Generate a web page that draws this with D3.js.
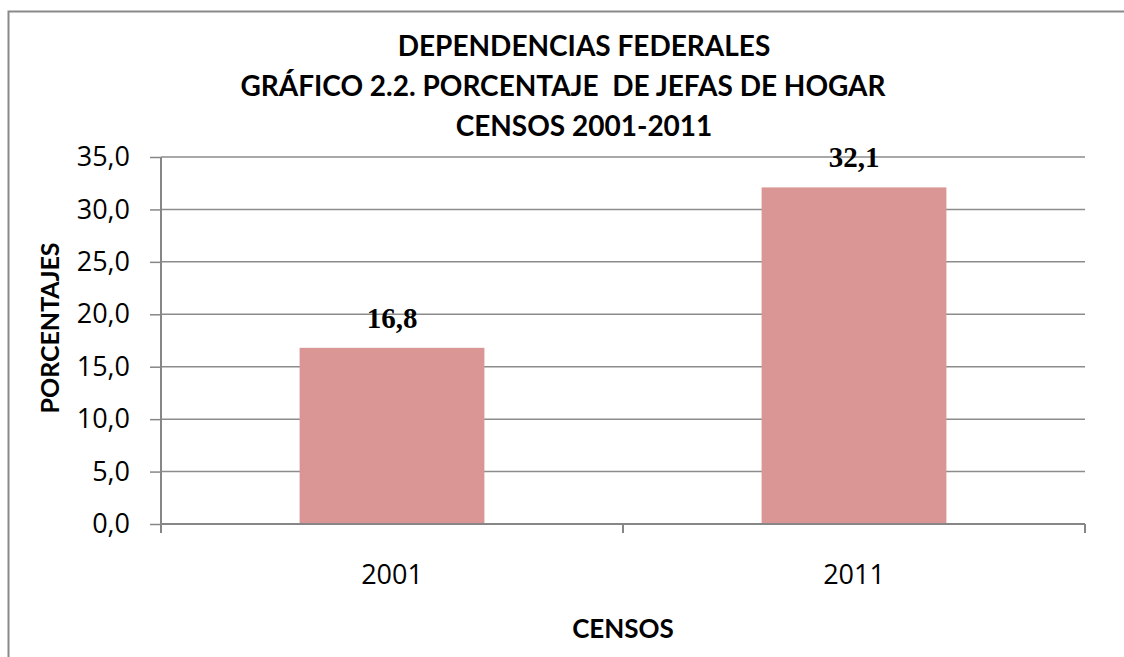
<!DOCTYPE html>
<html>
<head>
<meta charset="utf-8">
<script src="https://cdn.jsdelivr.net/npm/d3@7"></script>
<style>
  body { margin: 0; background: #fff; overflow: hidden; }
  svg { display: block; }
</style>
</head>
<body>
<div id="chart"></div>
<script>
const titleLines = ["DEPENDENCIAS FEDERALES", "GRÁFICO 2.2. PORCENTAJE  DE JEFAS DE HOGAR", "CENSOS 2001-2011"];
const categories = ["2001", "2011"];
const values = [16.8, 32.1];
const yTicks = [0, 5, 10, 15, 20, 25, 30, 35];
const yLabel = "PORCENTAJES";
const xLabel = "CENSOS";

const width = 1124, height = 657;
const plot = { left: 161, right: 1085, top: 157, bottom: 524 };
const fmt = d => d.toFixed(1).replace(".", ",");

const svg = d3.select("#chart").append("svg")
  .attr("width", width)
  .attr("height", height);

// Outer frame (runs past the picture edges)
svg.append("rect")
  .attr("x", 8.5).attr("y", 11.5)
  .attr("width", 1140).attr("height", 680)
  .attr("fill", "#fff")
  .attr("stroke", "#898989")
  .attr("stroke-width", 2);

// Scales
const x = d3.scaleBand()
  .domain(categories)
  .range([plot.left, plot.right])
  .paddingInner(0.6)
  .paddingOuter(0.3);

const y = d3.scaleLinear()
  .domain([0, 35])
  .range([plot.bottom, plot.top]);

// Gridlines
svg.append("g")
  .selectAll("line")
  .data(yTicks.filter(d => d > 0))
  .join("line")
  .attr("x1", plot.left).attr("x2", plot.right)
  .attr("y1", d => y(d)).attr("y2", d => y(d))
  .attr("stroke", "#8c8c8c")
  .attr("stroke-width", 1.5);

// Bars
svg.append("g")
  .selectAll("rect")
  .data(categories)
  .join("rect")
  .attr("x", d => x(d))
  .attr("y", (d, i) => y(values[i]))
  .attr("width", x.bandwidth())
  .attr("height", (d, i) => y(0) - y(values[i]))
  .attr("fill", "#d99694");

// Y axis
const yAxis = svg.append("g")
  .attr("transform", `translate(${plot.left},0)`)
  .call(d3.axisLeft(y)
    .tickValues(yTicks)
    .tickSize(11)
    .tickPadding(20)
    .tickFormat(fmt));

yAxis.select(".domain").remove();
yAxis.append("line")
  .attr("x1", 0).attr("x2", 0)
  .attr("y1", plot.top).attr("y2", plot.bottom + 9)
  .attr("stroke", "#868686")
  .attr("stroke-width", 2);
yAxis.selectAll(".tick line")
  .attr("stroke", "#868686")
  .attr("stroke-width", 1.5);
yAxis.selectAll(".tick text")
  .attr("fill", "#000")
  .style("font-family", "'Open Sans', sans-serif")
  .style("font-size", "27px");

// X axis
const xAxis = svg.append("g")
  .attr("transform", `translate(0,${plot.bottom})`)
  .call(d3.axisBottom(x).tickSize(0).tickPadding(41));

xAxis.select(".domain").remove();
xAxis.append("line")
  .attr("x1", plot.left).attr("x2", plot.right)
  .attr("y1", 0).attr("y2", 0)
  .attr("stroke", "#868686")
  .attr("stroke-width", 2);

// tick marks at the category boundaries
const step = x.step();
const bounds = categories.map((c, i) => plot.left + i * step);
bounds.push(plot.right);
xAxis.selectAll(".bound")
  .data(bounds)
  .join("line")
  .attr("class", "bound")
  .attr("x1", d => d).attr("x2", d => d)
  .attr("y1", 0).attr("y2", 9)
  .attr("stroke", "#868686")
  .attr("stroke-width", 2);

xAxis.selectAll(".tick text")
  .attr("fill", "#000")
  .style("font-family", "'Open Sans', sans-serif")
  .style("font-size", "27px");

// Value labels
svg.append("g")
  .selectAll("text")
  .data(categories)
  .join("text")
  .attr("x", d => x(d) + x.bandwidth() / 2)
  .attr("y", (d, i) => y(values[i]) - 20)
  .attr("text-anchor", "middle")
  .style("font-family", "'Liberation Serif', serif")
  .style("font-weight", "bold")
  .style("font-size", "29px")
  .text((d, i) => fmt(values[i]));

// Title
svg.append("text")
  .attr("text-anchor", "middle")
  .style("font-family", "Lato, sans-serif")
  .style("font-weight", "bold")
  .style("font-size", "28px")
  .style("white-space", "pre")
  .selectAll("tspan")
  .data(titleLines)
  .join("tspan")
  .attr("x", (d, i) => i === 1 ? 563 : 584)
  .attr("y", (d, i) => 56 + i * 40)
  .text(d => d);

// Axis titles
svg.append("text")
  .attr("transform", "rotate(-90)")
  .attr("x", -328)
  .attr("y", 59)
  .attr("text-anchor", "middle")
  .style("font-family", "Lato, sans-serif")
  .style("font-weight", "bold")
  .style("font-size", "25px")
  .text(yLabel);

svg.append("text")
  .attr("x", (plot.left + plot.right) / 2)
  .attr("y", 638)
  .attr("text-anchor", "middle")
  .style("font-family", "Lato, sans-serif")
  .style("font-weight", "bold")
  .style("font-size", "26px")
  .text(xLabel);
</script>
</body>
</html>
